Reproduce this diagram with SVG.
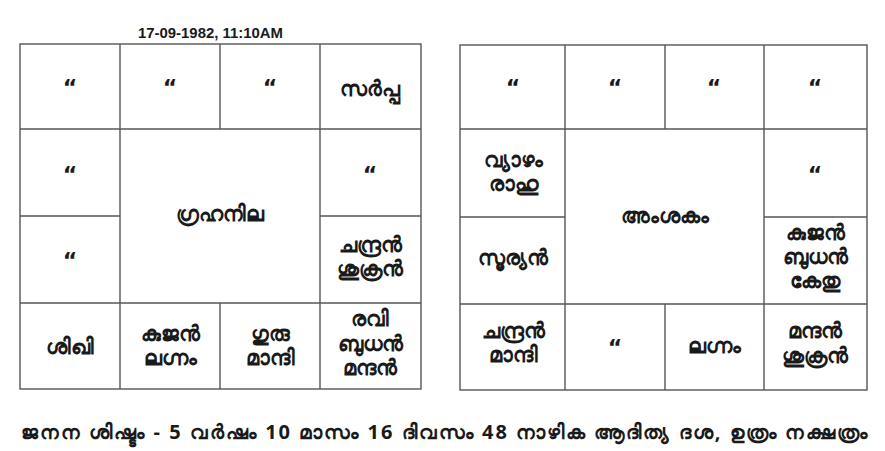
<svg xmlns="http://www.w3.org/2000/svg" width="885" height="451" viewBox="0 0 885 451">
<style>
.ln{stroke:#555;stroke-width:1.4;fill:none}
.t{font-family:"Noto Sans","Liberation Sans",sans-serif;font-weight:bold;font-size:20.5px;fill:#1a1a1a;text-anchor:middle}
.q{font-family:"DejaVu Sans",sans-serif;font-weight:bold;font-size:22px;fill:#1a1a1a;text-anchor:middle}
.h{font-family:"Liberation Sans",sans-serif;font-weight:bold;font-size:14px;fill:#1a1a1a;text-anchor:middle}
</style>
<rect width="885" height="451" fill="#fff"/>
<text class="h" x="210.5" y="38" textLength="145" lengthAdjust="spacingAndGlyphs">17-09-1982, 11:10AM</text>
<g id="connectors">
<g id="grid-left">
<rect class="ln" x="20" y="44" width="401" height="345"/>
<line class="ln" x1="20" y1="129" x2="421" y2="129"/>
<line class="ln" x1="20" y1="216" x2="120" y2="216"/>
<line class="ln" x1="320" y1="216" x2="421" y2="216"/>
<line class="ln" x1="20" y1="303" x2="421" y2="303"/>
<line class="ln" x1="120" y1="44" x2="120" y2="389"/>
<line class="ln" x1="320" y1="44" x2="320" y2="389"/>
<line class="ln" x1="220" y1="44" x2="220" y2="129"/>
<line class="ln" x1="220" y1="303" x2="220" y2="389"/>
</g>
<g id="grid-right">
<rect class="ln" x="460" y="45" width="407" height="345"/>
<line class="ln" x1="460" y1="129" x2="867" y2="129"/>
<line class="ln" x1="460" y1="217" x2="565" y2="217"/>
<line class="ln" x1="764" y1="217" x2="867" y2="217"/>
<line class="ln" x1="460" y1="304" x2="867" y2="304"/>
<line class="ln" x1="565" y1="45" x2="565" y2="390"/>
<line class="ln" x1="764" y1="45" x2="764" y2="390"/>
<line class="ln" x1="665" y1="45" x2="665" y2="129"/>
<line class="ln" x1="665" y1="304" x2="665" y2="390"/>
</g>
</g>
<g id="L1"><text class="q" x="70" y="95">“</text></g>
<g id="L2"><text class="q" x="170" y="95">“</text></g>
<g id="L3"><text class="q" x="270" y="95">“</text></g>
<g id="L4"><text class="t" x="370" y="96">സർപ്പ</text></g>
<g id="L5"><text class="q" x="70" y="182">“</text></g>
<g id="L6"><text class="q" x="370" y="182">“</text></g>
<g id="L7"><text class="q" x="70" y="268">“</text></g>
<g id="L8"><text class="t" x="370" y="252">ചന്ദ്രൻ</text><text class="t" x="370" y="276">ശുക്രൻ</text></g>
<g id="Lc"><text class="t" x="220" y="221">ഗ്രഹനില</text></g>
<g id="L9"><text class="t" x="70" y="354">ശിഖി</text></g>
<g id="L10"><text class="t" x="170" y="341">കുജൻ</text><text class="t" x="170" y="365">ലഗ്നം</text></g>
<g id="L11"><text class="t" x="270" y="341">ഗുരു</text><text class="t" x="270" y="365">മാന്ദി</text></g>
<g id="L12"><text class="t" x="370" y="326">രവി</text><text class="t" x="370" y="351">ബുധൻ</text><text class="t" x="370" y="375">മന്ദൻ</text></g>
<g id="R1"><text class="q" x="513" y="95">“</text></g>
<g id="R2"><text class="q" x="615" y="95">“</text></g>
<g id="R3"><text class="q" x="714" y="95">“</text></g>
<g id="R4"><text class="q" x="815" y="95">“</text></g>
<g id="R5"><text class="t" x="513" y="167">വ്യാഴം</text><text class="t" x="513" y="191">രാഹു</text></g>
<g id="R6"><text class="q" x="815" y="182">“</text></g>
<g id="Rc"><text class="t" x="665" y="223">അംശകം</text></g>
<g id="R7"><text class="t" x="513" y="265">സൂര്യൻ</text></g>
<g id="R8"><text class="t" x="815" y="240">കുജൻ</text><text class="t" x="815" y="264">ബുധൻ</text><text class="t" x="815" y="288">കേതു</text></g>
<g id="R9"><text class="t" x="513" y="338">ചന്ദ്രൻ</text><text class="t" x="513" y="362">മാന്ദി</text></g>
<g id="R10"><text class="q" x="615" y="355">“</text></g>
<g id="R11"><text class="t" x="714" y="353">ലഗ്നം</text></g>
<g id="R12"><text class="t" x="815" y="338">മന്ദൻ</text><text class="t" x="815" y="363">ശുക്രൻ</text></g>
<g id="footer"><text class="t" x="21" y="439" style="text-anchor:start;font-size:20px" textLength="846" lengthAdjust="spacing">ജനന ശിഷ്ടം - 5 വർഷം 10 മാസം 16 ദിവസം 48 നാഴിക ആദിത്യ ദശ, ഉത്രം നക്ഷത്രം</text></g>
</svg>
